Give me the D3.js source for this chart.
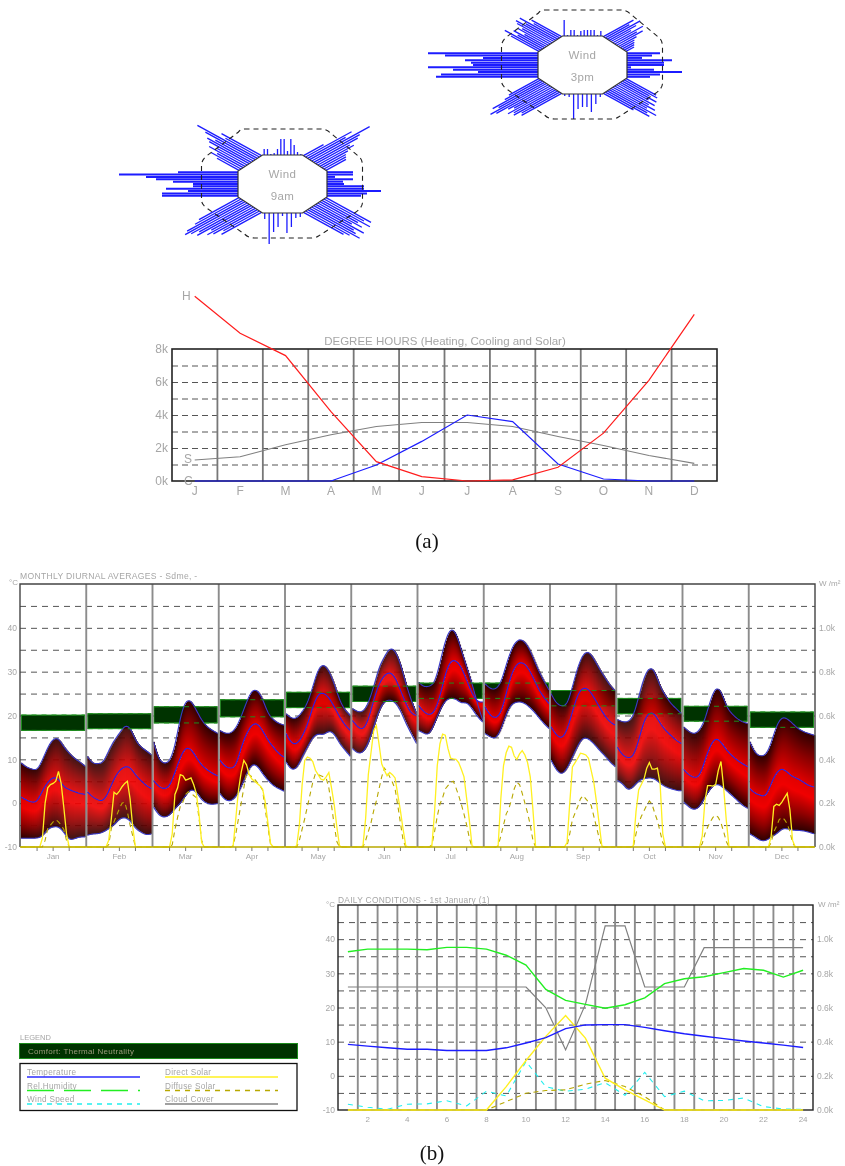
<!DOCTYPE html>
<html>
<head>
<meta charset="utf-8">
<script src="https://cdnjs.cloudflare.com/ajax/libs/d3/7.8.5/d3.min.js"></script>
<style>
html, body { margin: 0; padding: 0; background: #fff; }
svg { display: block; }
text { font-family: "Liberation Sans", Arial, sans-serif; fill: #a6a6a6; }
.soft { filter: blur(0.5px); }
.cap { font-family: "Liberation Serif", serif; font-size: 21px; fill: #111; }
.axis path.domain { display: none; }
</style>
</head>
<body>
<div id="chart"></div>
<script>
// ---- data ----
const monthNames = ["Jan","Feb","Mar","Apr","May","Jun","Jul","Aug","Sep","Oct","Nov","Dec"];
const monthInitials = ["J","F","M","A","M","J","J","A","S","O","N","D"];

// wind frequency bars, one list per octagon face, clockwise from the top
const wind3pmN  = [16,1,6,6,1,5,6,6,6,6,1,5];
const wind3pmNE = [30,24,33,27,20,30,22,26,18,14,12,10,8];
const wind3pmE  = [33,25,15,45,37,37,4,27,55,33,23];
const wind3pmSE = [30,33,27,36,30,38,34,42,36,47,40,44,30];
const wind3pmS  = [3,10,18,13,13,15,25,3,2];
const wind3pmSW = [40,38,44,42,46,38,42,52,56,46,50,36,30];
const wind3pmW  = [102,97,60,85,110,65,67,73,55,93,110];
const wind3pmNW = [28,36,25,31,22,30,28,35,38,30,38,26,30];

const wind9amN  = [6,6,1,2,6,16,16,4,16,10,3,1];
const wind9amNE = [20,46,38,60,48,44,34,36,28,24,22,20];
const wind9amE  = [26,26,8,26,16,17,37,37,54,40,34];
const wind9amSE = [45,40,48,38,44,36,50,42,46,52,44,40];
const wind9amS  = [4,5,14,20,3,14,19,31,6];
const wind9amSW = [40,36,44,48,42,54,50,56,60,56,46,40];
const wind9amW  = [76,76,50,72,45,45,65,82,92,119,60];
const wind9amNW = [22,30,26,36,30,40,44,38,50,60,34,40];

// degree hours (thousands)
const heatingDH = [11.2,8.95,7.6,4.2,1.17,0.27,0,0.07,0.83,2.9,6.1,10.1];
const coolingDH = [0,0,0,0,0.97,2.4,4,3.6,1.03,0.12,0,0];
const solarDH   = [1.27,1.47,2.2,2.8,3.3,3.55,3.55,3.3,2.7,2.15,1.55,1.07];

// monthly diurnal temperatures, read every two hours from 0h to 24h
const tempUpper = [
  [9.2,8.2,7.8,7.4,9.8,12.8,14.7,14.9,12.8,11.4,10.2,9.4,8.4],
  [10.7,9,9,9.2,12,14.3,15.9,17.8,17.4,14.3,12.8,12,11],
  [14,9.8,9,9.4,12.8,19.7,23.5,23.5,21.2,18.9,17.4,16.6,15.9],
  [16.6,15.9,15.9,17,19.7,23.1,25.8,25.9,23.9,20.4,19,18.2,17.8],
  [20.4,19.3,19.3,20.8,22.7,26.5,30.7,31.8,30.3,27.3,23.5,21.2,20],
  [21.6,20.8,20.8,22.7,26.5,31.1,33.4,35.5,34.9,31.9,27.3,23.5,20.4],
  [27.6,26.5,26.6,27.3,31.9,37.2,40,39,34.9,31.1,27.3,22.7,18.9],
  [27.3,26.1,25.9,27.3,31.5,35.3,37.2,37.4,36,33.4,30.3,28,25.8],
  [25,22.7,22.1,22.3,26.5,31.1,34.1,34.7,33,30.7,28.8,26.9,25.6],
  [19.1,18.5,18.5,19.7,24.2,28.8,31.1,30.3,26.5,24.6,22.7,21.6,20.4],
  [17.4,16.3,15.7,16.6,18.9,23.5,26.5,25.8,22,20.4,19.3,18.5,18.2],
  [14,11.3,10.7,10.9,13.6,17.8,19.7,19.3,18.2,17,16.3,15.9,15.5]
];
const tempMean = [
  [1.4,0.7,0.2,0.2,2.9,4.8,6,5.6,3.7,3.1,2.6,2.2,2],
  [2.6,1.4,0.7,0.4,2.6,5.6,7.5,8.4,8.3,6.4,5.2,4,3.3],
  [5.2,3.7,3.2,3.7,7,10.5,12.8,12.4,10.4,8.6,7.6,6.8,6.2],
  [9.8,8.3,7.9,8.3,12.8,15.9,18,18.3,16.6,14.3,12.8,11.3,10.5],
  [15.9,13.6,13.4,15.1,17.8,22,25,25.2,24.2,22,19.7,17.8,16.6],
  [18.9,17.4,16.6,18.9,23.5,27.3,29.2,30,28.8,25.8,22.7,20.4,20],
  [22.3,20.8,20,20.8,24.2,29.6,32.6,32.6,31.1,28,25,23,23.1],
  [22,20,19.3,20.4,25,29.6,31.9,32.2,31.1,28.8,26.1,24.2,22.7],
  [17.4,15.5,14.6,16.6,20.8,25,26.4,26.1,24.2,22,20,18.5,17.8],
  [12.8,10.9,10.3,10.5,14.3,18.9,20.8,20.4,18.2,16.6,15.5,14.3,13.6],
  [7.7,6.4,5.8,6,9.8,13.2,15,14,12.1,10.9,9.8,9,8.3],
  [3.3,2.2,1.8,1.4,4.5,7.1,8,7.1,6,5.6,4.8,4,3.7]
];
const tempLower = [
  [-8,-8,-8,-8,-7.6,-5.8,-5.4,-5.3,-6.6,-8.5,-8.1,-7.7,-7.7],
  [-7.3,-7,-7,-6.6,-5.8,-5,-3.5,-3.2,-3.9,-5.8,-6.6,-7.3,-7],
  [-0.9,-2.8,-3.3,-2.8,-1.2,-0.1,1.8,3.3,2.6,0.7,-0.1,-0.3,-0.1],
  [2.2,0.7,0.4,1.4,3.7,6.7,9,8.6,6.7,5.2,4,3.3,2.7],
  [9.4,7.5,7.9,10.5,12.8,15.1,15.9,15.5,16.6,15.9,13.6,12.1,10.7],
  [12.5,11.3,11.5,13.6,17.4,21.2,23.3,23.6,23.1,21.2,18.2,15.9,13.6],
  [16.6,15.9,15.5,18.2,21.2,23.5,24,23.8,22.7,23.1,21.6,19.7,18.5],
  [15.9,15.1,14.6,16.6,20.4,22.7,23.1,23.1,22.3,21.2,19.7,18.2,17],
  [9.8,7.5,6.4,7.9,10.5,13.2,15.1,14.7,13.6,12.1,10.9,9.4,8.3],
  [5.2,4.5,2.8,3.7,5.2,5.6,5.8,5.6,4.5,3.7,3.3,2.9,2.8],
  [0.3,-0.9,-1.6,-0.9,1.4,3.3,4.5,4,2.9,1.8,0.7,-0.5,-1.2],
  [-7,-7.7,-8.6,-8.6,-7.7,-7,-5.8,-5.8,-6.2,-6.2,-6.3,-6.6,-7]
];
// comfort band (upper, lower) in degrees for each month
const comfortUpper = [20.1,20.4,22,23.6,25.3,26.7,27.4,27.4,25.7,23.9,22.1,20.8];
const comfortLower = [16.6,17,18.3,19.7,21.8,23.2,23.9,23.9,22.2,20.4,18.7,17.3];

// hourly solar in W/m2, hours 1 to 24
const directSolar = [
  [0,0,0,0,0,0,0,40,200,270,285,290,300,345,290,180,60,0,0,0,0,0,0,0],
  [0,0,0,0,0,0,0,30,130,250,240,255,275,290,300,220,90,0,0,0,0,0,0,0],
  [0,0,0,0,0,0,60,240,270,330,325,305,310,315,285,245,150,20,0,0,0,0,0,0],
  [0,0,0,0,5,130,260,340,395,375,330,310,300,290,280,265,205,110,15,0,0,0,0,0],
  [0,0,0,5,100,280,395,410,405,390,350,330,310,305,320,340,270,195,90,5,0,0,0,0],
  [0,0,0,5,130,330,430,530,555,470,380,350,325,340,330,315,240,165,80,5,0,0,0,0],
  [0,0,0,0,5,160,370,470,515,510,450,405,402,400,385,355,320,220,120,5,0,0,0,0],
  [0,0,0,0,5,220,370,430,460,455,415,400,425,440,420,385,320,170,0,0,0,0,0,0],
  [0,0,0,0,0,20,200,365,385,405,428,425,420,405,350,295,205,105,5,0,0,0,0,0],
  [0,0,0,0,0,5,160,260,285,310,360,385,355,355,360,290,60,0,0,0,0,0,0,0],
  [0,0,0,0,0,0,50,210,280,280,278,285,350,390,270,120,0,0,0,0,0,0,0,0],
  [0,0,0,0,0,0,0,50,185,195,190,205,225,245,170,30,0,0,0,0,0,0,0,0]
];
const diffuseSolar = [
  [0,0,0,0,0,0,0,0,30,85,100,115,125,115,100,80,30,0,0,0,0,0,0,0],
  [0,0,0,0,0,0,0,10,85,115,145,175,200,205,160,100,50,0,0,0,0,0,0,0],
  [0,0,0,0,0,0,10,80,135,185,205,240,252,245,235,225,130,30,0,0,0,0,0,0],
  [0,0,0,0,5,60,130,200,270,340,330,320,310,295,280,260,170,90,10,0,0,0,0,0],
  [0,0,0,0,30,80,130,185,240,295,335,330,325,320,315,270,190,100,25,0,0,0,0,0],
  [0,0,0,0,30,70,110,165,210,265,320,360,345,320,295,265,190,110,30,0,0,0,0,0],
  [0,0,0,0,10,70,140,195,225,265,280,295,300,270,235,195,150,100,40,0,0,0,0,0],
  [0,0,0,0,5,50,100,150,175,215,265,295,285,245,200,155,100,30,0,0,0,0,0,0],
  [0,0,0,0,0,5,60,125,155,185,220,235,220,205,190,140,90,40,0,0,0,0,0,0],
  [0,0,0,0,0,0,60,110,140,165,190,210,195,155,120,70,20,0,0,0,0,0,0,0],
  [0,0,0,0,0,0,15,60,90,115,135,145,135,110,70,25,0,0,0,0,0,0,0,0],
  [0,0,0,0,0,0,0,20,70,95,125,135,125,105,70,20,0,0,0,0,0,0,0,0]
];

// daily conditions, hours 1 to 24
const dayHours = d3.range(1, 25);
const dayTemp = [9.2,8.7,8.2,7.8,7.8,7.4,7.4,7.4,8.2,9.6,11.2,13.8,14.9,15,15,14.2,13.2,12.3,11.6,10.9,10.2,9.6,9,8.3];
const dayHumidity = [36.3,37.1,37.1,37.1,36.9,37.6,37.6,37.1,35.3,32.4,25.3,22.1,20.9,19.8,20.8,22.8,27,28.4,29,30.2,31.4,30.9,28.9,30.9];
const dayWind = [-8.3,-9.2,-9.8,-8.3,-8.2,-7.3,-8.8,-4.5,-5.9,4.2,-3.2,-4.5,-3.9,-2,-5.7,1,-6.1,-4.5,-7.3,-7.2,-6.5,-9,-9.7,-9.8];
const dayCloud = [26,26,26,26,26,26,26,26,26,26,19.9,7.6,20.9,43.9,43.9,26,26,26,37.5,37.5,37.5,37.5,37.5,37.5];
const dayDirect = [0,0,0,0,0,0,0,0,137,290,431,553,421,186,118,59,0,0,0,0,0,0,0,0];
const dayDiffuse = [0,0,0,0,0,0,0,0,49,98,114,118,151,173,137,78,0,0,0,0,0,0,0,0];

const legendLeft = [["Temperature","#2a2aff",null],["Rel.Humidity","#22ee22","27,10"],["Wind Speed","#22eeee","5,5"]];
const legendRight = [["Direct Solar","#fff020",null],["Diffuse Solar","#b8a800","5,5"],["Cloud Cover","#808080",null]];

// ---- page ----
const svgRoot = d3.select("#chart").append("svg").attr("width", 845).attr("height", 1166);

// the same two vertical fades serve every pixel column of the heat band
const defs = svgRoot.append("defs");
function fade(id, stops) {
    const lg = defs.append("linearGradient").attr("id", id).attr("x1", 0).attr("x2", 0).attr("y1", 0).attr("y2", 1);
    stops.forEach(s => lg.append("stop").attr("offset", s[0]).attr("stop-color", s[1]));
}
fade("fadeUp", [[0, "#2e0000"], [0.5, "#8c0000"], [1, "#e00000"]]);
fade("fadeDown", [[0, "#e00000"], [0.25, "#f00000"], [0.65, "#900000"], [1, "#2e0000"]]);

const svg = svgRoot.append("g").attr("class", "soft");

const GRID = "#555", VLINE = "#8c8c8c";
const BLUE = "#1c1cff", YELLOW = "#fff020", OLIVE = "#b8a800", GREEN = "#22ee22", CYAN = "#22eeee", GREY = "#808080";

// wind rose: octagon with a comb of bars on each face
const windLen = d3.scaleLinear().domain([0, 100]).range([0, 100]);
const SLANT = 0.55; // the picture is squashed vertically

function drawWind(cx, cy, label, faces) {
    const g = svg.append("g").attr("transform", `translate(${cx},${cy})`);
    const W = 44.5, H = 29, tw = 20, sh = 13;
    const oct = [[-tw,-H],[tw,-H],[W,-sh],[W,sh],[tw,H],[-tw,H],[-W,sh],[-W,-sh]];
    const dirs = [[0,-1],[1,-SLANT],[1,0],[1,SLANT],[0,1],[-1,SLANT],[-1,0],[-1,-SLANT]];

    faces.forEach((vals, f) => {
        const a = oct[f], b = oct[(f + 1) % 8], d = dirs[f];
        const t = d3.scaleLinear().domain([-0.5, vals.length - 0.5]).range([0, 1]);
        const side = f === 2 || f === 6;
        g.append("g").selectAll("line").data(vals).join("line")
        .attr("x1", (v, i) => a[0] + (b[0] - a[0]) * t(i))
        .attr("y1", (v, i) => a[1] + (b[1] - a[1]) * t(i))
        .attr("x2", (v, i) => a[0] + (b[0] - a[0]) * t(i) + d[0] * windLen(v))
        .attr("y2", (v, i) => a[1] + (b[1] - a[1]) * t(i) + d[1] * windLen(v))
        .attr("stroke", BLUE)
        .attr("stroke-width", side ? 2 : 1.3);
    });

    // dashed outer limit
    g.append("path")
    .attr("d", "M-38,-55 H38 Q44,-55 48,-51 L77,-27 Q80,-24 80,-18 V18 Q80,24 72,29 L36,52 Q33,54 28,54 H-28 Q-34,54 -38,50 L-76,24 Q-81,20 -81,16 V-18 Q-81,-24 -76,-28 L-44,-52 Q-42,-55 -38,-55 Z")
    .attr("fill", "none").attr("stroke", "#222").attr("stroke-width", 1.1).attr("stroke-dasharray", "5,4");

    g.append("path")
    .attr("d", d3.line()(oct) + "Z")
    .attr("fill", "#fff").attr("stroke", "#333").attr("stroke-width", 1.2);

    g.append("text").attr("text-anchor", "middle").attr("y", -6).attr("font-size", 11.5).attr("letter-spacing", 0.4).text("Wind");
    g.append("text").attr("text-anchor", "middle").attr("y", 16).attr("font-size", 11.5).attr("letter-spacing", 0.4).text(label);
}

drawWind(582.5, 65, "3pm", [wind3pmN, wind3pmNE, wind3pmE, wind3pmSE, wind3pmS, wind3pmSW, wind3pmW, wind3pmNW]);
drawWind(282.5, 184, "9am", [wind9amN, wind9amNE, wind9amE, wind9amSE, wind9amS, wind9amSW, wind9amW, wind9amNW]);

// ---- degree hours ----
(function () {
    const left = 172, right = 717, top = 349, bottom = 481;
    const x = d3.scaleBand().domain(d3.range(12)).range([left, right]);
    const y = d3.scaleLinear().domain([0, 8]).range([bottom, top]);
    const g = svg.append("g");

    g.append("g").attr("class", "axis").attr("transform", `translate(${left},0)`)
    .call(d3.axisLeft(y).tickValues(d3.range(1, 8)).tickSize(-(right - left)).tickFormat(""))
    .selectAll("line").attr("stroke", GRID).attr("stroke-dasharray", "6,4");

    g.append("g").selectAll("line").data(d3.range(1, 12)).join("line")
    .attr("x1", d => x(d)).attr("x2", d => x(d)).attr("y1", top).attr("y2", bottom)
    .attr("stroke", "#777").attr("stroke-width", 1.8);

    g.append("rect").attr("x", left).attr("y", top).attr("width", right - left).attr("height", bottom - top)
    .attr("fill", "none").attr("stroke", "#222").attr("stroke-width", 1.6);

    const yAxis = g.append("g").attr("class", "axis").attr("transform", `translate(${left},0)`)
    .call(d3.axisLeft(y).tickValues([0, 2, 4, 6, 8]).tickSize(0).tickPadding(4).tickFormat(d => d + "k"));
    yAxis.selectAll("text").attr("font-size", 12);

    const xAxis = g.append("g").attr("class", "axis").attr("transform", `translate(0,${bottom})`)
    .call(d3.axisBottom(x).tickSize(0).tickPadding(5).tickFormat(d => monthInitials[d]));
    xAxis.selectAll("text").attr("font-size", 12);

    const line = d3.line().x((d, i) => x(i) + x.bandwidth() / 2).y(d => y(d));
    g.append("path").attr("d", line(solarDH)).attr("fill", "none").attr("stroke", "#808080").attr("stroke-width", 1.1);
    g.append("path").attr("d", line(coolingDH)).attr("fill", "none").attr("stroke", "#1c1cff").attr("stroke-width", 1.2);
    g.append("path").attr("d", line(heatingDH)).attr("fill", "none").attr("stroke", "#ff1c1c").attr("stroke-width", 1.2);

    g.append("text").attr("x", 445).attr("y", 345).attr("text-anchor", "middle").attr("font-size", 11.5).text("DEGREE HOURS (Heating, Cooling and Solar)");
    g.append("text").attr("x", 182).attr("y", 300).attr("font-size", 12).text("H");
    g.append("text").attr("x", 184).attr("y", 463).attr("font-size", 12).text("S");
    g.append("text").attr("x", 184).attr("y", 485).attr("font-size", 12).text("C");
})();

// shared left and right value axes for the two lower charts
function valueAxes(g, yT, yW, left, right, fs) {
    const a = g.append("g").attr("class", "axis").attr("transform", `translate(${left},0)`)
    .call(d3.axisLeft(yT).tickValues([-10, 0, 10, 20, 30, 40]).tickSize(0).tickPadding(3).tickFormat(d => String(d)));
    a.selectAll("text").attr("font-size", fs);
    const b = g.append("g").attr("class", "axis").attr("transform", `translate(${right},0)`)
    .call(d3.axisRight(yW).tickValues([0, 200, 400, 600, 800, 1000]).tickSize(0).tickPadding(4).tickFormat(d => (d / 1000).toFixed(1) + "k"));
    b.selectAll("text").attr("font-size", fs);
}

// ---- monthly diurnal averages ----
(function () {
    const left = 20, right = 815, top = 584, bottom = 847;
    const x = d3.scaleBand().domain(monthNames).range([left, right]);
    const yT = d3.scaleLinear().domain([-10, 50]).range([bottom, top]);
    const yW = d3.scaleLinear().domain([0, 1000]).range([bottom, yT(40)]);
    const g = svg.append("g");

    g.append("g").attr("class", "axis").attr("transform", `translate(${left},0)`)
    .call(d3.axisLeft(yT).tickValues(d3.range(-5, 50, 5)).tickSize(-(right - left)).tickFormat(""))
    .selectAll("line").attr("stroke", GRID).attr("stroke-dasharray", "6,5");

    monthNames.forEach((m, mi) => {
        const hx = d3.scaleLinear().domain([0, 24]).range([x(m) + 1, x(m) + x.bandwidth() - 1]);

        // comfort zone
        g.append("rect")
        .attr("x", x(m) + 1.5).attr("width", x.bandwidth() - 3)
        .attr("y", yT(comfortUpper[mi])).attr("height", yT(comfortLower[mi]) - yT(comfortUpper[mi]))
        .attr("fill", "#003300").attr("stroke", "#1c8c1c").attr("stroke-width", 1);

        // smooth the two-hourly readings, one heat column per pixel
        const upF = d3.interpolateBasis(tempUpper[mi]);
        const meanF = d3.interpolateBasis(tempMean[mi]);
        const lowF = d3.interpolateBasis(tempLower[mi]);
        const cols = d3.range(0, 24.01, 24 / 64);
        const heat = g.append("g");
        heat.selectAll("rect.up").data(cols).join("rect").attr("class", "up")
        .attr("x", d => hx(d)).attr("width", 1.4)
        .attr("y", d => yT(upF(d / 24)))
        .attr("height", d => Math.max(0.1, yT(meanF(d / 24)) - yT(upF(d / 24))))
        .attr("fill", "url(#fadeUp)");
        heat.selectAll("rect.down").data(cols).join("rect").attr("class", "down")
        .attr("x", d => hx(d)).attr("width", 1.4)
        .attr("y", d => yT(meanF(d / 24)))
        .attr("height", d => Math.max(0.1, yT(lowF(d / 24)) - yT(meanF(d / 24))))
        .attr("fill", "url(#fadeDown)");

        const tl = f => d3.line().x(d => hx(d)).y(d => yT(f(d / 24)))(cols);
        g.append("path").attr("d", tl(upF)).attr("fill", "none").attr("stroke", "#3a3ac8").attr("stroke-width", 1.1);
        g.append("path").attr("d", tl(lowF)).attr("fill", "none").attr("stroke", "#3a3ac8").attr("stroke-width", 1.1);
        g.append("path").attr("d", tl(meanF)).attr("fill", "none").attr("stroke", "#2222ee").attr("stroke-width", 1.1);

        // comfort limits stay visible over the heat band
        [comfortUpper[mi], comfortLower[mi]].forEach(c => {
            g.append("line").attr("x1", x(m) + 1.5).attr("x2", x(m) + x.bandwidth() - 1.5)
            .attr("y1", yT(c)).attr("y2", yT(c))
            .attr("stroke", "#1c8c1c").attr("stroke-dasharray", "5,5");
        });

        const sl = d3.line().x((d, i) => hx(i)).y(d => yW(d));
        g.append("path").attr("d", sl([0].concat(diffuseSolar[mi]))).attr("fill", "none").attr("stroke", OLIVE).attr("stroke-width", 1.1).attr("stroke-dasharray", "5,4");
        g.append("path").attr("d", sl([0].concat(directSolar[mi]))).attr("fill", "none").attr("stroke", YELLOW).attr("stroke-width", 1.3);

        // hour ticks under the month
        g.append("g").selectAll("line").data([6, 12, 18]).join("line")
        .attr("x1", d => hx(d)).attr("x2", d => hx(d)).attr("y1", bottom).attr("y2", bottom + 4)
        .attr("stroke", "#777");
    });

    g.append("g").selectAll("line").data(monthNames.slice(1)).join("line")
    .attr("x1", d => x(d)).attr("x2", d => x(d)).attr("y1", top).attr("y2", bottom)
    .attr("stroke", VLINE).attr("stroke-width", 1.9);

    g.append("path").attr("d", `M${left},${bottom} V${top} H${right} V${bottom}`)
    .attr("fill", "none").attr("stroke", "#444").attr("stroke-width", 1.4);
    g.append("line").attr("x1", left).attr("x2", right).attr("y1", bottom).attr("y2", bottom)
    .attr("stroke", "#b8a800").attr("stroke-width", 1.4);

    const xa = g.append("g").attr("class", "axis").attr("transform", `translate(0,${bottom})`)
    .call(d3.axisBottom(x).tickSize(0).tickPadding(6));
    xa.selectAll("text").attr("font-size", 8);

    valueAxes(g, yT, yW, left, right, 8.5);
    g.append("text").attr("x", 20).attr("y", 579).attr("font-size", 8.6).attr("letter-spacing", 0.3).text("MONTHLY DIURNAL AVERAGES - Sdme, -");
    g.append("text").attr("x", 9).attr("y", 585).attr("font-size", 8).text("°C");
    g.append("text").attr("x", 819).attr("y", 586).attr("font-size", 8).text("W /m²");
})();

// ---- daily conditions ----
(function () {
    const left = 338, right = 813, top = 905, bottom = 1110;
    const x = d3.scaleBand().domain(dayHours).range([left, right]);
    const yT = d3.scaleLinear().domain([-10, 50]).range([bottom, top]);
    const yW = d3.scaleLinear().domain([0, 1000]).range([bottom, yT(40)]);
    const g = svg.append("g");

    g.append("g").attr("class", "axis").attr("transform", `translate(${left},0)`)
    .call(d3.axisLeft(yT).tickValues(d3.range(-5, 50, 5)).tickSize(-(right - left)).tickFormat(""))
    .selectAll("line").attr("stroke", GRID).attr("stroke-dasharray", "6,5");

    g.append("g").selectAll("line").data(dayHours.slice(1)).join("line")
    .attr("x1", d => x(d)).attr("x2", d => x(d)).attr("y1", top).attr("y2", bottom)
    .attr("stroke", VLINE).attr("stroke-width", 1.9);

    g.append("rect").attr("x", left).attr("y", top).attr("width", right - left).attr("height", bottom - top)
    .attr("fill", "none").attr("stroke", "#222").attr("stroke-width", 1.4);

    const px = (d, i) => x(dayHours[i]) + x.bandwidth() / 2;
    const lineT = d3.line().x(px).y(d => yT(d));
    const lineW = d3.line().x(px).y(d => yW(d));
    const put = (d, col, w, dash) => g.append("path").attr("d", d).attr("fill", "none")
    .attr("stroke", col).attr("stroke-width", w).attr("stroke-dasharray", dash);

    put(lineT(dayCloud), GREY, 1.2, null);
    put(lineT(dayWind), CYAN, 1.1, "5,5");
    put(lineW(dayDiffuse), OLIVE, 1.1, "5,4");
    put(lineW(dayDirect), YELLOW, 1.4, null);
    put(lineT(dayHumidity), GREEN, 1.4, null);
    put(lineT(dayTemp), BLUE, 1.4, null);

    const xa = g.append("g").attr("class", "axis").attr("transform", `translate(0,${bottom})`)
    .call(d3.axisBottom(x).tickValues(dayHours.filter(h => h % 2 === 0)).tickSize(0).tickPadding(6));
    xa.selectAll("text").attr("font-size", 8);

    valueAxes(g, yT, yW, left, right, 8.5);
    g.append("text").attr("x", 338).attr("y", 903).attr("font-size", 8.4).attr("letter-spacing", 0.3).text("DAILY CONDITIONS - 1st January (1)");
    g.append("text").attr("x", 326).attr("y", 907).attr("font-size", 8).text("°C");
    g.append("text").attr("x", 818).attr("y", 907).attr("font-size", 8).text("W /m²");
})();

// ---- legend ----
(function () {
    const g = svg.append("g");
    g.append("text").attr("x", 20).attr("y", 1040).attr("font-size", 7.5).text("LEGEND");
    g.append("rect").attr("x", 19.5).attr("y", 1043.5).attr("width", 278).attr("height", 15)
    .attr("fill", "#003300").attr("stroke", "#1c8c1c");
    g.append("text").attr("x", 28).attr("y", 1054).attr("font-size", 8).attr("letter-spacing", 0.3).style("fill", "#9a9a7a").text("Comfort: Thermal Neutrality");
    g.append("rect").attr("x", 20).attr("y", 1063.5).attr("width", 277).attr("height", 47)
    .attr("fill", "#fff").attr("stroke", "#111").attr("stroke-width", 1.3);

    const rowY = d3.scalePoint().domain([0, 1, 2]).range([1077, 1104]);
    const col = (rows, x0, x1) => rows.forEach((r, i) => {
        g.append("text").attr("x", x0).attr("y", rowY(i) - 2).attr("font-size", 8.2).attr("letter-spacing", 0.3).text(r[0]);
        g.append("line").attr("x1", x0).attr("x2", x1).attr("y1", rowY(i)).attr("y2", rowY(i))
        .attr("stroke", r[1]).attr("stroke-width", 1.4).attr("stroke-dasharray", r[2]);
    });
    col(legendLeft, 27, 140);
    col(legendRight, 165, 278);
})();

svgRoot.append("text").attr("class", "cap").attr("x", 427).attr("y", 548).attr("text-anchor", "middle").text("(a)");
svgRoot.append("text").attr("class", "cap").attr("x", 432).attr("y", 1160).attr("text-anchor", "middle").text("(b)");
</script>
</body>
</html>
